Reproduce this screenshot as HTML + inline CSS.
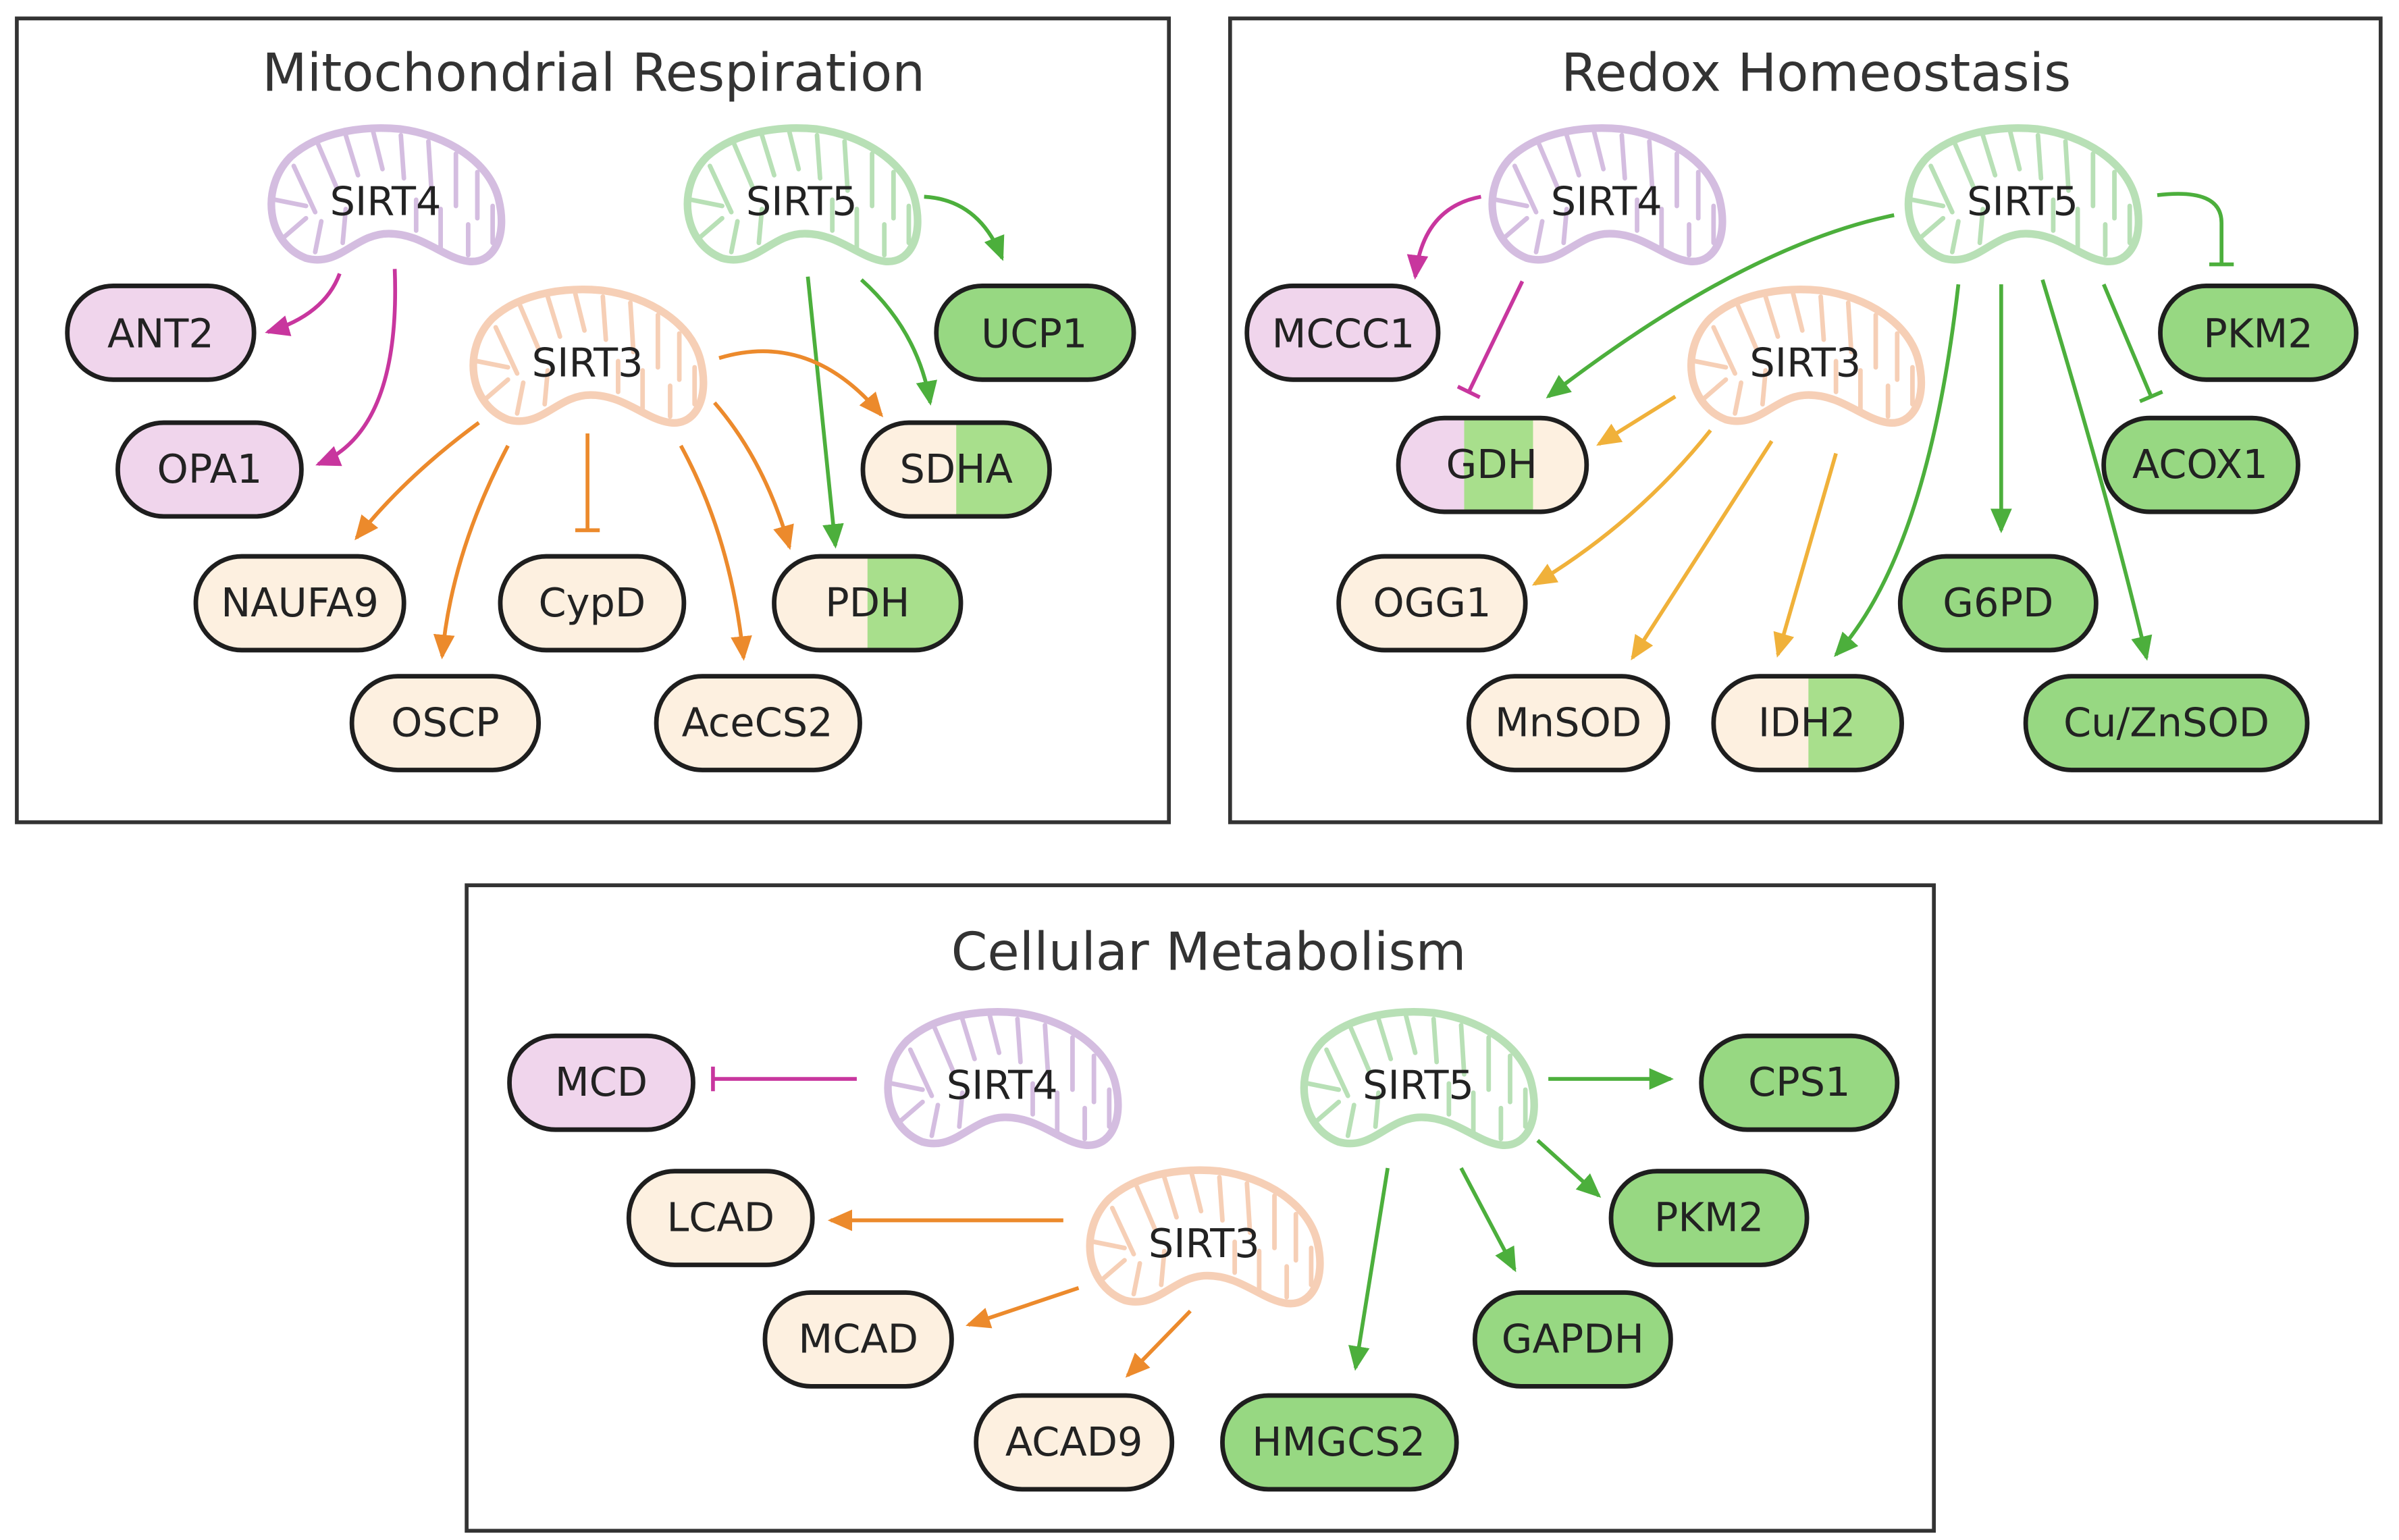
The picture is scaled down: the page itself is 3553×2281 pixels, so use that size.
<!DOCTYPE html>
<html><head><meta charset="utf-8"><style>
html,body{margin:0;padding:0;background:#fff}
svg{display:block}
text{font-family:"DejaVu Sans","Liberation Sans",sans-serif}
</style></head><body>
<svg width="3553" height="2281" viewBox="0 0 1568 1002" preserveAspectRatio="none" xmlns="http://www.w3.org/2000/svg">
<defs>
<marker id="am" markerUnits="userSpaceOnUse" markerWidth="20" markerHeight="20" refX="14" refY="8" orient="auto"><path d="M0,1 L16,8 L0,15 Z" fill="#c8369e"/></marker>
<marker id="ao" markerUnits="userSpaceOnUse" markerWidth="20" markerHeight="20" refX="14" refY="8" orient="auto"><path d="M0,1 L16,8 L0,15 Z" fill="#ec8a2c"/></marker>
<marker id="ag" markerUnits="userSpaceOnUse" markerWidth="20" markerHeight="20" refX="14" refY="8" orient="auto"><path d="M0,1 L16,8 L0,15 Z" fill="#4caf3c"/></marker>
<marker id="ay" markerUnits="userSpaceOnUse" markerWidth="20" markerHeight="20" refX="14" refY="8" orient="auto"><path d="M0,1 L16,8 L0,15 Z" fill="#f0b13a"/></marker>
<marker id="tm" markerUnits="userSpaceOnUse" markerWidth="6" markerHeight="20" refX="2" refY="10" orient="auto"><path d="M2,2 L2,18" stroke="#c8369e" stroke-width="2.5"/></marker>
<marker id="to" markerUnits="userSpaceOnUse" markerWidth="6" markerHeight="20" refX="2" refY="10" orient="auto"><path d="M2,2 L2,18" stroke="#ec8a2c" stroke-width="2.5"/></marker>
<marker id="tg" markerUnits="userSpaceOnUse" markerWidth="6" markerHeight="20" refX="2" refY="10" orient="auto"><path d="M2,2 L2,18" stroke="#4caf3c" stroke-width="2.5"/></marker>
<g id="mito">
<path d="M-52,38 C-78,28 -82,-8 -62,-28 C-42,-46 -10,-48 10,-46 C40,-42 68,-25 74,0 C80,25 70,42 54,40 C38,38 24,22 2,22 C-20,22 -30,44 -52,38 Z" fill="#fff" stroke-width="5"/>
<g stroke-width="3" fill="none" stroke-linecap="round">
<path d="M-72,0 L-52,4"/><path d="M-66,24 L-52,12"/><path d="M-60,-22 L-46,8"/><path d="M-46,34 L-42,14"/><path d="M-44,-36 L-32,-8"/><path d="M-28,28 L-26,6"/><path d="M-26,-42 L-18,-16"/><path d="M-8,-44 L-2,-20"/><path d="M10,-42 L12,-14"/><path d="M28,-38 L30,-6"/><path d="M46,-30 L46,4"/><path d="M60,-18 L60,12"/><path d="M36,32 L36,6"/><path d="M54,36 L54,16"/><path d="M20,20 L20,0"/><path d="M70,4 L70,28"/>
</g>
</g>
</defs>

<g fill="none" stroke="#333" stroke-width="2.5">
<rect x="11" y="12" width="753" height="523"/>
<rect x="804" y="12" width="752" height="523"/>
<rect x="305" y="576" width="959" height="420"/>
</g>
<g font-size="34" fill="#333" text-anchor="middle">
<text x="388" y="59">Mitochondrial Respiration</text>
<text x="1187" y="59">Redox Homeostasis</text>
<text x="790" y="631">Cellular Metabolism</text>
</g>

<use href="#mito" x="252" y="130" stroke="#d4bde0"/>
<use href="#mito" x="524" y="130" stroke="#b8e0b6"/>
<use href="#mito" x="384" y="235" stroke="#f6cfb6"/>
<use href="#mito" x="1050" y="130" stroke="#d4bde0"/>
<use href="#mito" x="1322" y="130" stroke="#b8e0b6"/>
<use href="#mito" x="1180" y="235" stroke="#f6cfb6"/>
<use href="#mito" x="655" y="705" stroke="#d4bde0"/>
<use href="#mito" x="927" y="705" stroke="#b8e0b6"/>
<use href="#mito" x="787" y="808" stroke="#f6cfb6"/>
<g font-size="26" fill="#222" text-anchor="middle">
<text x="252" y="140">SIRT4</text><text x="524" y="140">SIRT5</text><text x="384" y="245">SIRT3</text>
<text x="1050" y="140">SIRT4</text><text x="1322" y="140">SIRT5</text><text x="1180" y="245">SIRT3</text>
<text x="655" y="715">SIRT4</text><text x="927" y="715">SIRT5</text><text x="787" y="818">SIRT3</text>
</g>

<g fill="none" stroke-width="2.5">
<path d="M222,178 Q212,205 175,216" stroke="#c8369e" marker-end="url(#am)"/>
<path d="M258,175 Q262,280 208,302" stroke="#c8369e" marker-end="url(#am)"/>
<path d="M604,128 Q640,130 655,168" stroke="#4caf3c" marker-end="url(#ag)"/>
<path d="M563,182 Q600,215 608,262" stroke="#4caf3c" marker-end="url(#ag)"/>
<path d="M528,180 L546,355" stroke="#4caf3c" marker-end="url(#ag)"/>
<path d="M470,233 Q530,215 576,270" stroke="#ec8a2c" marker-end="url(#ao)"/>
<path d="M467,262 Q500,300 516,356" stroke="#ec8a2c" marker-end="url(#ao)"/>
<path d="M313,275 Q265,310 233,350" stroke="#ec8a2c" marker-end="url(#ao)"/>
<path d="M332,290 Q295,360 289,427" stroke="#ec8a2c" marker-end="url(#ao)"/>
<path d="M384,282 L384,345" stroke="#ec8a2c" marker-end="url(#to)"/>
<path d="M445,290 Q478,350 486,428" stroke="#ec8a2c" marker-end="url(#ao)"/>
</g>
<g fill="none" stroke-width="2.5">
<path d="M968,128 Q930,135 925,180" stroke="#c8369e" marker-end="url(#am)"/>
<path d="M995,183 L960,255" stroke="#c8369e" marker-end="url(#tm)"/>
<path d="M1238,140 Q1140,160 1012,258" stroke="#4caf3c" marker-end="url(#ag)"/>
<path d="M1410,127 Q1452,122 1452,145 L1452,172" stroke="#4caf3c" marker-end="url(#tg)"/>
<path d="M1375,185 L1406,258" stroke="#4caf3c" marker-end="url(#tg)"/>
<path d="M1308,185 L1308,345" stroke="#4caf3c" marker-end="url(#ag)"/>
<path d="M1335,182 Q1380,330 1403,428" stroke="#4caf3c" marker-end="url(#ag)"/>
<path d="M1280,185 Q1260,360 1200,426" stroke="#4caf3c" marker-end="url(#ag)"/>
<path d="M1095,258 L1045,289" stroke="#f0b13a" marker-end="url(#ay)"/>
<path d="M1118,280 Q1070,340 1003,380" stroke="#f0b13a" marker-end="url(#ay)"/>
<path d="M1158,287 L1067,428" stroke="#f0b13a" marker-end="url(#ay)"/>
<path d="M1200,295 L1162,426" stroke="#f0b13a" marker-end="url(#ay)"/>
</g>
<g fill="none" stroke-width="2.5">
<path d="M560,702 L466,702" stroke="#c8369e" marker-end="url(#tm)"/>
<path d="M1012,702 L1092,702" stroke="#4caf3c" marker-end="url(#ag)"/>
<path d="M1005,742 L1045,778" stroke="#4caf3c" marker-end="url(#ag)"/>
<path d="M955,760 L990,826" stroke="#4caf3c" marker-end="url(#ag)"/>
<path d="M907,760 L886,890" stroke="#4caf3c" marker-end="url(#ag)"/>
<path d="M695,794 L543,794" stroke="#ec8a2c" marker-end="url(#ao)"/>
<path d="M705,838 L633,862" stroke="#ec8a2c" marker-end="url(#ao)"/>
<path d="M778,853 L737,895" stroke="#ec8a2c" marker-end="url(#ao)"/>
</g>

<defs>
<clipPath id="cPDH"><rect x="506" y="362" width="122" height="61" rx="30"/></clipPath>
<clipPath id="cSDHA"><rect x="564" y="275" width="122" height="61" rx="30"/></clipPath>
<clipPath id="cGDH"><rect x="914" y="272" width="123" height="61" rx="30"/></clipPath>
<clipPath id="cIDH2"><rect x="1120" y="440" width="123" height="61" rx="30"/></clipPath>
</defs>
<g clip-path="url(#cPDH)"><rect x="506" y="362" width="122" height="61" fill="#fdf0e0"/><rect x="567" y="362" width="61" height="61" fill="#a8df8c"/></g>
<g clip-path="url(#cSDHA)"><rect x="564" y="275" width="122" height="61" fill="#fdf0e0"/><rect x="625" y="275" width="61" height="61" fill="#a8df8c"/></g>
<g clip-path="url(#cGDH)"><rect x="914" y="272" width="123" height="61" fill="#fdf0e0"/><rect x="914" y="272" width="43" height="61" fill="#f0d5ec"/><rect x="957" y="272" width="45" height="61" fill="#a8df8c"/></g>
<g clip-path="url(#cIDH2)"><rect x="1120" y="440" width="123" height="61" fill="#fdf0e0"/><rect x="1182" y="440" width="61" height="61" fill="#a8df8c"/></g>

<g stroke="#1e1e1e" stroke-width="3">
<rect x="44" y="186" width="122" height="61" rx="30" fill="#f0d5ec"/>
<rect x="77" y="275" width="120" height="61" rx="30" fill="#f0d5ec"/>
<rect x="128" y="362" width="136" height="61" rx="30" fill="#fdf0e0"/>
<rect x="327" y="362" width="120" height="61" rx="30" fill="#fdf0e0"/>
<rect x="506" y="362" width="122" height="61" rx="30" fill="none"/>
<rect x="230" y="440" width="122" height="61" rx="30" fill="#fdf0e0"/>
<rect x="429" y="440" width="133" height="61" rx="30" fill="#fdf0e0"/>
<rect x="564" y="275" width="122" height="61" rx="30" fill="none"/>
<rect x="612" y="186" width="129" height="61" rx="30" fill="#97d882"/>

<rect x="815" y="186" width="125" height="61" rx="30" fill="#f0d5ec"/>
<rect x="914" y="272" width="123" height="61" rx="30" fill="none"/>
<rect x="1412" y="186" width="128" height="61" rx="30" fill="#97d882"/>
<rect x="1375" y="272" width="127" height="61" rx="30" fill="#97d882"/>
<rect x="875" y="362" width="122" height="61" rx="30" fill="#fdf0e0"/>
<rect x="1242" y="362" width="128" height="61" rx="30" fill="#97d882"/>
<rect x="960" y="440" width="130" height="61" rx="30" fill="#fdf0e0"/>
<rect x="1120" y="440" width="123" height="61" rx="30" fill="none"/>
<rect x="1324" y="440" width="184" height="61" rx="30" fill="#97d882"/>

<rect x="333" y="674" width="120" height="61" rx="30" fill="#f0d5ec"/>
<rect x="411" y="762" width="120" height="61" rx="30" fill="#fdf0e0"/>
<rect x="500" y="841" width="122" height="61" rx="30" fill="#fdf0e0"/>
<rect x="638" y="908" width="128" height="61" rx="30" fill="#fdf0e0"/>
<rect x="799" y="908" width="153" height="61" rx="30" fill="#97d882"/>
<rect x="964" y="841" width="128" height="61" rx="30" fill="#97d882"/>
<rect x="1053" y="762" width="128" height="61" rx="30" fill="#97d882"/>
<rect x="1112" y="674" width="128" height="61" rx="30" fill="#97d882"/>
</g>
<g font-size="26" fill="#222" text-anchor="middle">
<text x="105" y="226">ANT2</text>
<text x="137" y="314">OPA1</text>
<text x="196" y="401">NAUFA9</text>
<text x="387" y="401">CypD</text>
<text x="567" y="401">PDH</text>
<text x="291" y="479">OSCP</text>
<text x="495" y="479">AceCS2</text>
<text x="625" y="314">SDHA</text>
<text x="676" y="226">UCP1</text>

<text x="878" y="226">MCCC1</text>
<text x="975" y="311">GDH</text>
<text x="1476" y="226">PKM2</text>
<text x="1438" y="311">ACOX1</text>
<text x="936" y="401">OGG1</text>
<text x="1306" y="401">G6PD</text>
<text x="1025" y="479">MnSOD</text>
<text x="1181" y="479">IDH2</text>
<text x="1416" y="479">Cu/ZnSOD</text>

<text x="393" y="713">MCD</text>
<text x="471" y="801">LCAD</text>
<text x="561" y="880">MCAD</text>
<text x="702" y="947">ACAD9</text>
<text x="875" y="947">HMGCS2</text>
<text x="1028" y="880">GAPDH</text>
<text x="1117" y="801">PKM2</text>
<text x="1176" y="713">CPS1</text>
</g>
</svg>
</body></html>
